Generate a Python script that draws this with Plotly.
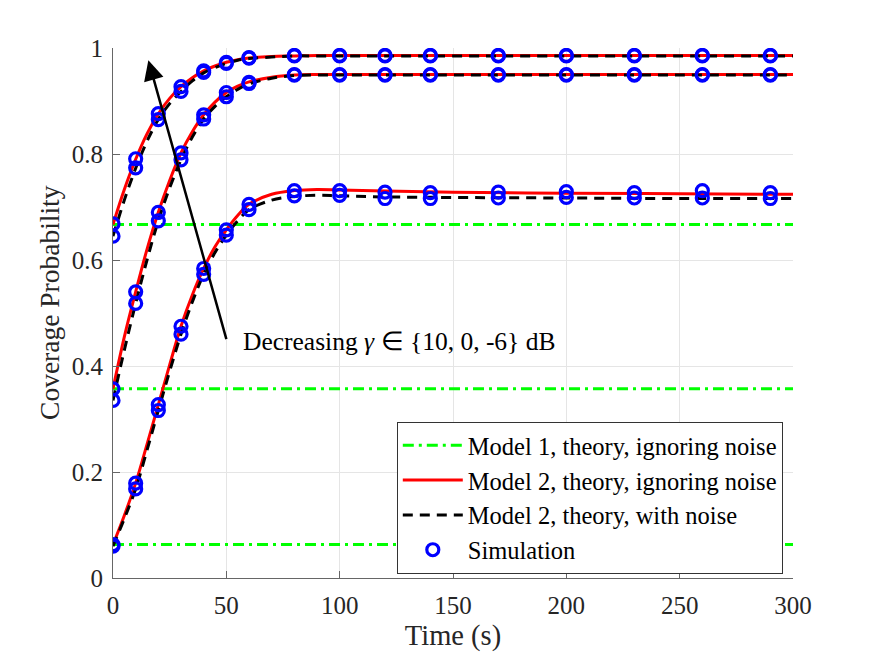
import plotly.graph_objects as go

# ---------------- data ----------------
t_theory = [0, 5, 10, 15, 20, 25, 30, 35, 40, 45, 50, 55, 60, 70, 80, 90, 100, 120, 150, 200, 250, 300]

# gamma = -6 dB (top)
m2_ign_top = [0.667, 0.733, 0.790, 0.838, 0.876, 0.905, 0.927, 0.944, 0.957, 0.966, 0.973, 0.978, 0.981, 0.984, 0.985, 0.986, 0.986, 0.986, 0.986, 0.986, 0.986, 0.986]
m2_noise_top = [0.645, 0.713, 0.773, 0.824, 0.865, 0.895, 0.918, 0.938, 0.953, 0.963, 0.971, 0.977, 0.980, 0.983, 0.985, 0.985, 0.985, 0.985, 0.985, 0.985, 0.985, 0.985]
# gamma = 0 dB (middle)
m2_ign_mid = [0.357, 0.455, 0.540, 0.620, 0.690, 0.750, 0.802, 0.842, 0.874, 0.898, 0.916, 0.928, 0.936, 0.945, 0.949, 0.950, 0.950, 0.950, 0.950, 0.950, 0.950, 0.950]
m2_noise_mid = [0.335, 0.430, 0.518, 0.600, 0.674, 0.736, 0.789, 0.832, 0.866, 0.890, 0.908, 0.922, 0.932, 0.943, 0.948, 0.949, 0.949, 0.949, 0.949, 0.949, 0.949, 0.949]
# gamma = 10 dB (bottom)
m2_ign_bot = [0.063, 0.118, 0.179, 0.252, 0.327, 0.402, 0.475, 0.534, 0.584, 0.625, 0.657, 0.684, 0.705, 0.724, 0.731, 0.733, 0.732, 0.730, 0.728, 0.726, 0.725, 0.724]
m2_noise_bot = [0.060, 0.112, 0.168, 0.241, 0.316, 0.390, 0.460, 0.521, 0.573, 0.614, 0.647, 0.674, 0.695, 0.713, 0.720, 0.722, 0.721, 0.719, 0.718, 0.717, 0.716, 0.716]

# Model 1 (constant levels)
m1_t = [0, 300]
m1_levels = [0.667, 0.357, 0.063]

# Simulation
sim_t = [0, 10, 20, 30, 40, 50, 60, 80, 100, 120, 140, 170, 200, 230, 260, 290]
sim_top_a = [0.668, 0.791, 0.876, 0.927, 0.957, 0.973, 0.982, 0.986, 0.986, 0.986, 0.986, 0.986, 0.986, 0.986, 0.986, 0.986]
sim_top_b = [0.645, 0.774, 0.865, 0.918, 0.954, 0.971, 0.981, 0.985, 0.985, 0.985, 0.985, 0.985, 0.985, 0.985, 0.985, 0.985]
sim_mid_a = [0.357, 0.540, 0.690, 0.802, 0.874, 0.916, 0.935, 0.950, 0.950, 0.950, 0.950, 0.950, 0.950, 0.950, 0.950, 0.950]
sim_mid_b = [0.335, 0.518, 0.674, 0.789, 0.866, 0.908, 0.933, 0.949, 0.949, 0.949, 0.949, 0.949, 0.949, 0.949, 0.949, 0.949]
sim_bot_a = [0.063, 0.179, 0.327, 0.475, 0.584, 0.657, 0.705, 0.731, 0.731, 0.728, 0.727, 0.728, 0.729, 0.727, 0.731, 0.727]
sim_bot_b = [0.060, 0.168, 0.316, 0.460, 0.573, 0.647, 0.695, 0.721, 0.722, 0.716, 0.716, 0.717, 0.718, 0.717, 0.717, 0.716]

x_ticks = [0, 50, 100, 150, 200, 250, 300]
y_ticks = [0, 0.2, 0.4, 0.6, 0.8, 1]
y_tick_text = ["0", "0.2", "0.4", "0.6", "0.8", "1"]

legend_names = ["Model 1, theory, ignoring noise", "Model 2, theory, ignoring noise",
                "Model 2, theory, with noise", "Simulation"]

# arrow (data coords)
arrow_tail = (50.2, 0.448)
arrow_head = (15.6, 0.977)
label_pos = (56.5, 0.447)

FONT = "Liberation Serif"

fig = go.Figure()

# Model 1 green
for i, lvl in enumerate(m1_levels):
    fig.add_trace(go.Scatter(
        x=m1_t, y=[lvl, lvl], mode="lines",
        line=dict(color="#00FF00", width=3, dash="11px,5px,3px,5px"),
        name=legend_names[0], legendgroup="m1",
        showlegend=(i == 0)))

# Model 2 ignoring noise (red)
for i, ys in enumerate([m2_ign_top, m2_ign_mid, m2_ign_bot]):
    fig.add_trace(go.Scatter(
        x=t_theory, y=ys, mode="lines", line_shape="spline",
        line=dict(color="#FF0000", width=3),
        name=legend_names[1], legendgroup="m2a",
        showlegend=(i == 0)))

# Model 2 with noise (black dashed)
for i, ys in enumerate([m2_noise_top, m2_noise_mid, m2_noise_bot]):
    fig.add_trace(go.Scatter(
        x=t_theory, y=ys, mode="lines", line_shape="spline",
        line=dict(color="#000000", width=3, dash="10px,7px"),
        name=legend_names[2], legendgroup="m2b",
        showlegend=(i == 0)))

# Simulation
for i, ys in enumerate([sim_top_a, sim_top_b, sim_mid_a, sim_mid_b, sim_bot_a, sim_bot_b]):
    fig.add_trace(go.Scatter(
        x=sim_t, y=ys, mode="markers",
        marker=dict(symbol="circle-open", size=12, color="#0000FF",
                    line=dict(width=3.2, color="#0000FF")),
        name=legend_names[3], legendgroup="sim",
        showlegend=(i == 0)))

fig.add_annotation(
    x=arrow_head[0], y=arrow_head[1], ax=arrow_tail[0], ay=arrow_tail[1],
    xref="x", yref="y", axref="x", ayref="y",
    showarrow=True, arrowhead=2, arrowsize=1.6, arrowwidth=2.5,
    arrowcolor="#000000", text="")
fig.add_annotation(
    x=label_pos[0], y=label_pos[1], xref="x", yref="y",
    text="Decreasing <i>γ</i> ∈ {10, 0, -6} dB", showarrow=False,
    xanchor="left", yanchor="middle",
    font=dict(family=FONT, size=25.5, color="#000000"))
# y-axis title placed explicitly
fig.add_annotation(
    x=-0.0926, y=0.519, xref="paper", yref="paper",
    text="Coverage Probability", showarrow=False, textangle=-90,
    xanchor="center", yanchor="middle",
    font=dict(family=FONT, size=27.5, color="#262626"))

axis_common = dict(
    showgrid=True, gridcolor="#E5E5E5", gridwidth=1,
    zeroline=False, showline=True, linecolor="#666666", linewidth=1.2,
    ticks="inside", ticklen=7, tickcolor="#666666", tickwidth=1,
    tickfont=dict(family=FONT, size=25, color="#262626"),
)

fig.update_layout(
    width=875, height=657,
    margin=dict(l=113, r=82, t=48, b=77),
    paper_bgcolor="white", plot_bgcolor="white",
    font=dict(family=FONT, color="#262626"),
    xaxis=dict(range=[0, 300], tickvals=x_ticks, ticklabelstandoff=5,
               title=dict(text="Time (s)", font=dict(family=FONT, size=28.5, color="#262626"), standoff=6),
               **axis_common),
    yaxis=dict(range=[0, 1], tickvals=y_ticks, ticktext=y_tick_text, ticklabelstandoff=4,
               **axis_common),
    legend=dict(
        x=0.985, y=0.008, xanchor="right", yanchor="bottom",
        bgcolor="white", bordercolor="#333333", borderwidth=1,
        font=dict(family=FONT, size=24.5, color="#000000"),
        itemwidth=60, tracegroupgap=0,
    ),
    showlegend=True,
)

fig.write_html("out.html")
